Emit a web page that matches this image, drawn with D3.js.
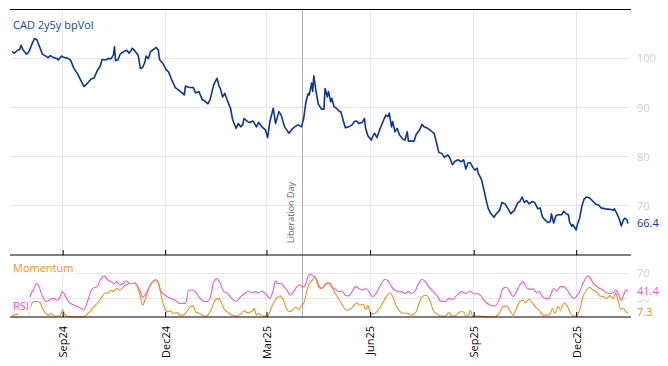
<!DOCTYPE html>
<html><head><meta charset="utf-8">
<script src="https://cdn.jsdelivr.net/npm/d3@7"></script>
<style>html,body{margin:0;padding:0;background:#fff}svg{display:block}text{font-family:"Open Sans","Noto Sans",sans-serif}</style>
</head><body><svg id="chart" width="668" height="366"></svg>
<script>
const title = "CAD 2y5y bpVol";
const volDates = ["2024-07-18","2024-07-20","2024-07-23","2024-07-25","2024-07-26","2024-07-28","2024-07-31","2024-08-02","2024-08-05","2024-08-07","2024-08-09","2024-08-11","2024-08-14","2024-08-17","2024-08-19","2024-08-21","2024-08-24","2024-08-27","2024-08-28","2024-08-31",
"2024-09-03","2024-09-06","2024-09-08","2024-09-11","2024-09-14","2024-09-17","2024-09-20","2024-09-23","2024-09-26","2024-09-29",
"2024-10-02","2024-10-04","2024-10-06","2024-10-09","2024-10-11","2024-10-14","2024-10-16","2024-10-17","2024-10-18","2024-10-20","2024-10-22","2024-10-25","2024-10-28","2024-10-30",
"2024-11-02","2024-11-04","2024-11-07","2024-11-09","2024-11-11","2024-11-13","2024-11-14","2024-11-16","2024-11-18","2024-11-21","2024-11-23","2024-11-25","2024-11-26","2024-11-29",
"2024-12-02","2024-12-04","2024-12-07","2024-12-10","2024-12-13","2024-12-16","2024-12-18","2024-12-19","2024-12-22","2024-12-26","2024-12-28","2024-12-31",
"2025-01-03","2025-01-05","2025-01-08","2025-01-10","2025-01-13","2025-01-16","2025-01-18","2025-01-19","2025-01-21","2025-01-23","2025-01-25","2025-01-28","2025-01-30",
"2025-02-02","2025-02-04","2025-02-06","2025-02-08","2025-02-09","2025-02-12","2025-02-14","2025-02-17","2025-02-20","2025-02-22","2025-02-25","2025-02-28",
"2025-03-02","2025-03-04","2025-03-07","2025-03-09","2025-03-12","2025-03-14","2025-03-17","2025-03-21","2025-03-24","2025-03-26","2025-03-29",
"2025-04-01","2025-04-03","2025-04-05","2025-04-07","2025-04-08","2025-04-10","2025-04-11","2025-04-12","2025-04-14","2025-04-16","2025-04-19","2025-04-21","2025-04-22","2025-04-24","2025-04-25","2025-04-27","2025-04-28","2025-04-30",
"2025-05-02","2025-05-05","2025-05-06","2025-05-08","2025-05-10","2025-05-13","2025-05-16","2025-05-18","2025-05-20","2025-05-22","2025-05-25","2025-05-27","2025-05-28","2025-05-30",
"2025-06-02","2025-06-04","2025-06-05","2025-06-07","2025-06-10","2025-06-13","2025-06-15","2025-06-17","2025-06-18","2025-06-20","2025-06-21","2025-06-23","2025-06-25","2025-06-27","2025-06-30",
"2025-07-02","2025-07-04","2025-07-05","2025-07-08","2025-07-10","2025-07-12","2025-07-15","2025-07-17","2025-07-19","2025-07-22","2025-07-24","2025-07-26","2025-07-28","2025-07-30",
"2025-08-01","2025-08-04","2025-08-06","2025-08-09","2025-08-11","2025-08-13","2025-08-15","2025-08-18","2025-08-21","2025-08-23","2025-08-25","2025-08-27","2025-08-29","2025-08-31",
"2025-09-02","2025-09-04","2025-09-05","2025-09-08","2025-09-10","2025-09-12","2025-09-14","2025-09-16","2025-09-19","2025-09-21","2025-09-24","2025-09-26","2025-09-29",
"2025-10-01","2025-10-04","2025-10-07","2025-10-10","2025-10-12","2025-10-14","2025-10-16","2025-10-18","2025-10-20","2025-10-23","2025-10-25","2025-10-28","2025-10-30",
"2025-11-01","2025-11-03","2025-11-06","2025-11-08","2025-11-09","2025-11-11","2025-11-13","2025-11-15","2025-11-18","2025-11-20","2025-11-22","2025-11-24","2025-11-25","2025-11-27","2025-11-28",
"2025-12-01","2025-12-02","2025-12-04","2025-12-06","2025-12-08","2025-12-10","2025-12-13","2025-12-16","2025-12-18","2025-12-21","2025-12-23","2025-12-27","2025-12-31",
"2026-01-03","2026-01-04","2026-01-07","2026-01-09","2026-01-10","2026-01-12","2026-01-13","2026-01-15","2026-01-16"];
const volValues = [101.5,101.1,101.7,101.9,102.7,101.7,100.9,
101.4,103.1,104.1,103.9,102.7,100.9,100.5,100.2,100.6,100.2,100.0,99.7,100.5,
100.2,100.0,99.7,98.0,97.0,95.6,94.3,95.0,95.8,96.1,
97.7,98.3,99.8,99.7,100.0,100.0,100.7,102.4,99.6,99.7,100.9,101.4,101.7,101.1,
102.1,101.6,100.7,98.0,98.2,99.3,100.5,100.0,101.4,101.9,102.3,101.7,99.8,99.0,
97.7,97.3,95.6,94.1,93.6,93.0,92.6,94.4,94.1,94.1,93.0,93.3,
91.6,91.4,90.8,91.7,94.6,96.0,94.3,93.9,92.2,92.9,91.6,89.9,87.5,
85.8,86.8,86.1,86.6,87.8,87.2,87.0,87.3,86.1,87.0,86.1,85.5,
83.9,87.2,89.9,86.8,89.2,88.5,86.1,84.8,85.7,86.1,86.5,
86.1,87.8,91.2,92.9,92.6,95.0,93.3,96.5,93.3,90.7,89.7,89.7,93.9,92.2,93.3,91.2,91.9,90.2,
89.9,89.2,89.2,87.5,85.9,86.1,86.5,87.2,87.3,86.8,87.0,87.8,85.8,84.3,
83.4,84.5,84.8,83.9,85.8,87.5,88.5,88.2,88.9,86.1,87.2,85.1,85.8,84.5,83.6,
83.4,85.1,83.2,83.2,83.2,84.6,85.5,86.6,86.1,85.8,85.5,85.1,84.7,82.8,
80.9,80.6,79.9,80.4,79.7,78.4,79.0,79.4,79.0,79.4,77.5,78.8,78.8,77.9,
77.3,77.7,76.7,75.3,73.3,71.2,69.4,68.5,67.7,68.4,69.1,70.7,70.4,
69.6,68.4,69.1,70.6,70.9,71.8,70.7,71.1,70.4,70.9,70.7,69.4,69.6,
67.8,67.2,66.6,66.8,68.4,66.5,68.0,68.2,68.2,68.9,68.4,68.2,66.8,65.8,66.2,
65.1,66.2,67.5,69.9,71.4,71.8,71.6,70.9,70.4,70.2,69.6,69.4,69.3,
69.1,69.4,68.0,66.8,65.9,67.2,67.5,67.2,66.4];

const rsiDates = ["2024-07-18","2024-07-21","2024-07-25","2024-07-29","2024-08-02","2024-08-03","2024-08-06","2024-08-09","2024-08-11","2024-08-14","2024-08-18","2024-08-21","2024-08-24","2024-08-27","2024-08-29",
"2024-09-01","2024-09-03","2024-09-06","2024-09-11","2024-09-15","2024-09-20","2024-09-23","2024-09-27",
"2024-10-02","2024-10-04","2024-10-08","2024-10-11","2024-10-14","2024-10-17","2024-10-19","2024-10-22","2024-10-25","2024-10-28","2024-10-30",
"2024-11-02","2024-11-04","2024-11-06","2024-11-09","2024-11-11","2024-11-14","2024-11-17","2024-11-20","2024-11-23","2024-11-25","2024-11-27",
"2024-12-01","2024-12-06","2024-12-10","2024-12-14","2024-12-19","2024-12-22","2024-12-26","2024-12-29",
"2025-01-01","2025-01-05","2025-01-08","2025-01-11","2025-01-13","2025-01-16","2025-01-19","2025-01-22","2025-01-25","2025-01-29",
"2025-02-02","2025-02-06","2025-02-10","2025-02-13","2025-02-16","2025-02-19","2025-02-22","2025-02-25","2025-02-28",
"2025-03-04","2025-03-07","2025-03-09","2025-03-11","2025-03-14","2025-03-17","2025-03-20","2025-03-22","2025-03-25","2025-03-28","2025-03-31",
"2025-04-02","2025-04-05","2025-04-07","2025-04-09","2025-04-12","2025-04-14","2025-04-17","2025-04-19","2025-04-22","2025-04-25","2025-04-28",
"2025-05-01","2025-05-04","2025-05-07","2025-05-10","2025-05-13","2025-05-16","2025-05-19","2025-05-22","2025-05-25","2025-05-28","2025-05-31",
"2025-06-03","2025-06-05","2025-06-08","2025-06-11","2025-06-14","2025-06-17","2025-06-20","2025-06-23","2025-06-26","2025-06-29",
"2025-07-02","2025-07-05","2025-07-08","2025-07-11","2025-07-14","2025-07-17","2025-07-20","2025-07-23","2025-07-27",
"2025-08-01","2025-08-02","2025-08-07","2025-08-10","2025-08-13","2025-08-17","2025-08-21","2025-08-25","2025-08-29",
"2025-09-01","2025-09-04","2025-09-07","2025-09-11","2025-09-16","2025-09-20","2025-09-24","2025-09-27","2025-09-30",
"2025-10-03","2025-10-06","2025-10-09","2025-10-12","2025-10-15","2025-10-17","2025-10-20","2025-10-24","2025-10-27","2025-10-29",
"2025-11-01","2025-11-04","2025-11-07","2025-11-09","2025-11-11","2025-11-14","2025-11-17","2025-11-20","2025-11-23","2025-11-26","2025-11-29",
"2025-12-01","2025-12-04","2025-12-07","2025-12-11","2025-12-13","2025-12-16","2025-12-19","2025-12-22","2025-12-25","2025-12-28","2025-12-31",
"2026-01-03","2026-01-05","2026-01-07","2026-01-10","2026-01-12","2026-01-14","2026-01-16"];
const rsiValues = [19,24,31,27,13,32,44,54,49,33,25,28.5,30,27,30,
41,35,25,19,16,12,25,45,
50,58.5,66,60,57,54,57,52,54,58.5,54,
54,55,50,41,32,38,49,57,60,54,42,
35,30,27,22,22,43.5,43.5,38,
30,25,25,38,57,62,54,41,39,30,
25,33,38,42,39,41,39,42,38,
30,43.5,58.5,54,54,48,41,35,41,49,52,
48,54,66,69,66,62,49,46,52,55,48,
45,41,42,35,34,41,49,46,43.5,46,41,
33,35,43.5,54,61,58.5,49,43.5,41,41,
38,41,38,42,54,61,57,49,41,
30,26,25,30,28.5,35,41,38,42,
37,38,35,25,19,18,30,46,48,
41,33,41,52,57,50,45,45,39,41,
33,30,30,39,46,42,49,49,43.5,35,30,
33,41,54,66,64,55,50,46,43.5,39,38,
39,43.5,39,27,35,43.5,41.4];

const momDates = ["2024-07-18","2024-07-24","2024-07-29","2024-08-02","2024-08-04","2024-08-06","2024-08-09","2024-08-12","2024-08-14","2024-08-17","2024-08-20","2024-08-22","2024-08-24","2024-08-27","2024-08-30",
"2024-09-01","2024-09-03","2024-09-08","2024-09-14","2024-09-20","2024-09-24","2024-09-29",
"2024-10-03","2024-10-06","2024-10-09","2024-10-11","2024-10-14","2024-10-16","2024-10-19","2024-10-22","2024-10-25","2024-10-28","2024-10-30",
"2024-11-02","2024-11-05","2024-11-07","2024-11-09","2024-11-11","2024-11-13","2024-11-16","2024-11-19","2024-11-22","2024-11-24","2024-11-26","2024-11-28","2024-11-30",
"2024-12-03","2024-12-06","2024-12-08","2024-12-12","2024-12-14","2024-12-17","2024-12-20","2024-12-23","2024-12-26","2024-12-28","2024-12-31",
"2025-01-03","2025-01-07","2025-01-09","2025-01-12","2025-01-14","2025-01-17","2025-01-19","2025-01-22","2025-01-25","2025-01-29",
"2025-02-03","2025-02-06","2025-02-09","2025-02-12","2025-02-15","2025-02-17","2025-02-18","2025-02-20","2025-02-22","2025-02-24","2025-02-26",
"2025-03-02","2025-03-04","2025-03-07","2025-03-10","2025-03-13","2025-03-16","2025-03-18","2025-03-21","2025-03-24","2025-03-27","2025-03-30",
"2025-04-01","2025-04-03","2025-04-06","2025-04-08","2025-04-11","2025-04-13","2025-04-15","2025-04-18","2025-04-21","2025-04-24","2025-04-27","2025-04-29",
"2025-05-02","2025-05-05","2025-05-08","2025-05-11","2025-05-14","2025-05-17","2025-05-20","2025-05-23","2025-05-26","2025-05-28","2025-05-30",
"2025-06-01","2025-06-04","2025-06-07","2025-06-10","2025-06-13","2025-06-16","2025-06-19","2025-06-21","2025-06-24","2025-06-27",
"2025-07-01","2025-07-04","2025-07-08","2025-07-12","2025-07-15","2025-07-18","2025-07-21","2025-07-24","2025-07-27",
"2025-08-01","2025-08-02","2025-08-07","2025-08-10","2025-08-13","2025-08-16","2025-08-20","2025-08-23","2025-08-25","2025-08-28","2025-08-29","2025-08-31",
"2025-09-04","2025-09-13","2025-09-20","2025-09-24","2025-09-27","2025-09-30",
"2025-10-03","2025-10-06","2025-10-09","2025-10-12","2025-10-15","2025-10-17","2025-10-20","2025-10-23","2025-10-26","2025-10-29",
"2025-11-02","2025-11-05","2025-11-08","2025-11-10","2025-11-12","2025-11-15","2025-11-17","2025-11-20","2025-11-23","2025-11-26","2025-11-29",
"2025-12-01","2025-12-04","2025-12-07","2025-12-10","2025-12-13","2025-12-16","2025-12-19","2025-12-22","2025-12-25","2025-12-28","2025-12-31",
"2026-01-03","2026-01-05","2026-01-07","2026-01-10","2026-01-12","2026-01-14","2026-01-16"];
const momValues = [2,6,15,5,19,25,25,23,14,6,3,6,2,1.5,3,
12,3,0.5,0.5,0.5,7,17,
25,33,39,38,43.5,41,46,43.5,49,52,54,
54,54,46,33,19,27,43.5,54,60,58.5,49,30,17,
8.5,10,6,7,3,3,8.5,16,18,8.5,6,
3,1.5,6,17,27,30,27,14,8.5,3,
1.5,5,10,7,8.5,11,14,3,6,3,1.5,
1.5,8.5,22,30,34,27,17,8.5,11,16,12,
19,22,43.5,54,60,65,54,46,49,55,54,45,
35,27,17,11,12,17,23,19,21,12,19,
7,5,8.5,16,25,35,39,33,19,10,
6,6,3,8.5,25,34,35,27,11,
3,1.5,1.5,7,1.5,3,8.5,8.5,1.5,5,11,1.5,
1.5,0.5,0.5,7,17,18,
11,3,14,25,27,23,28.5,23,16,11,
3,3,6,14,6,17,11,23,18,6,1.5,
1.5,11,33,43.5,48,43.5,41,34,33,30,34,
30,39,27,12,14,8.5,7.3];

const xTickDates = ["2024-09-01","2024-12-01","2025-03-01","2025-06-01","2025-09-01","2025-12-01"];
const yTicksTop = [70,80,90,100];
const yTicksBottom = [30,70];
const eventDate = "2025-04-02";
const eventLabel = "Liberation Day";

const C = {vol:"#0a34a3", title:"#1c3fa0", rsi:"#f653d8", mom:"#fb8c1c", grid:"#e6e6e6", axisTxt:"#cfcfcf"};

const parse = d3.timeParse("%Y-%m-%d");
const svg = d3.select("#chart");
const PL = 10, PR = 631, PT = 9.5, PM = 255, PB = 317;

const x = d3.scaleTime()
  .domain([parse(volDates[0]), parse(volDates[volDates.length-1])])
  .range([12, 628]);
const yTop = d3.scaleLinear().domain([60,110]).range([PM, PT]);
const yBot = d3.scaleLinear().domain([0,100]).range([PB, PM]);

const ticks = xTickDates.map(parse);

// grid
const grid = svg.append("g");
grid.selectAll("line.v").data(ticks).join("line")
  .attr("x1", d=>x(d)).attr("x2", d=>x(d)).attr("y1", PT).attr("y2", PB)
  .attr("stroke", C.grid).attr("stroke-width", 1).attr("shape-rendering","crispEdges");
grid.selectAll("line.ht").data(yTicksTop).join("line")
  .attr("x1", 11).attr("x2", 628).attr("y1", d=>yTop(d)).attr("y2", d=>yTop(d))
  .attr("stroke", C.grid).attr("shape-rendering","crispEdges");
grid.selectAll("line.hb").data(yTicksBottom).join("line")
  .attr("x1", 11).attr("x2", 628).attr("y1", d=>yBot(d)).attr("y2", d=>yBot(d))
  .attr("stroke", C.grid).attr("shape-rendering","crispEdges");

// event line
const ev = parse(eventDate);
svg.append("line").attr("x1", x(ev)).attr("x2", x(ev)).attr("y1", PT).attr("y2", PB)
  .attr("stroke", "#b4b4b4").attr("stroke-width", 1).attr("shape-rendering","crispEdges");
svg.append("text").attr("transform", `translate(${x(ev)-12},243) rotate(-90)`)
  .attr("dy","0.35em").attr("font-size", 9).attr("fill", "#666").text(eventLabel);

// right axis labels
svg.append("g").selectAll("text").data(yTicksTop).join("text")
  .attr("x", 637).attr("y", d=>yTop(d)).attr("dy","0.35em")
  .attr("font-size", 11).attr("fill", C.axisTxt).text(d=>d);
svg.append("g").selectAll("text").data(yTicksBottom).join("text")
  .attr("x", 637).attr("y", d=>yBot(d)).attr("dy","0.35em")
  .attr("font-size", 11).attr("fill", C.axisTxt).text(d=>d);

// lines
const volData = volDates.map((d,i)=>({d:parse(d), v:volValues[i]}));
const rsiData = rsiDates.map((d,i)=>({d:parse(d), v:rsiValues[i]}));
const momData = momDates.map((d,i)=>({d:parse(d), v:momValues[i]}));

svg.append("path").datum(volData)
  .attr("d", d3.line().x(p=>x(p.d)).y(p=>yTop(p.v)))
  .attr("fill","none").attr("stroke", C.vol).attr("stroke-width", 1.6).attr("stroke-linejoin","round");
svg.append("path").datum(rsiData)
  .attr("d", d3.line().curve(d3.curveMonotoneX).x(p=>x(p.d)).y(p=>yBot(p.v)))
  .attr("fill","none").attr("stroke", C.rsi).attr("stroke-width", 1.1);
svg.append("path").datum(momData)
  .attr("d", d3.line().curve(d3.curveMonotoneX).x(p=>x(p.d)).y(p=>yBot(p.v)))
  .attr("fill","none").attr("stroke", C.mom).attr("stroke-width", 1.1);

// frame lines
svg.append("line").attr("x1", PL).attr("x2", PR).attr("y1", PT).attr("y2", PT).attr("stroke","#000").attr("stroke-width",1.2);
svg.append("line").attr("x1", PL).attr("x2", PR).attr("y1", PM).attr("y2", PM).attr("stroke","#000").attr("stroke-width",1.2);
svg.append("line").attr("x1", PL).attr("x2", PR).attr("y1", PB).attr("y2", PB).attr("stroke","#000").attr("stroke-width",1.2);

// ticks (pointing up)
[PM, PB].forEach(yy=>{
  const g = svg.append("g").attr("transform", `translate(0,${yy})`)
    .call(d3.axisTop(x).tickValues(ticks).tickSize(5).tickSizeOuter(0).tickFormat(""));
  g.select(".domain").remove();
  g.selectAll("line").attr("stroke","#000");
});
// tick labels
const gl = svg.append("g").attr("transform", `translate(0,${PB})`)
  .call(d3.axisBottom(x).tickValues(ticks).tickSize(0).tickFormat(d3.timeFormat("%b%y")));
gl.select(".domain").remove();
gl.selectAll("text").attr("transform","rotate(-90)").attr("text-anchor","end")
  .attr("x", -9).attr("y", 0).attr("dy","0.35em")
  .attr("font-size", 11).attr("fill","#000").attr("font-family", '"Open Sans","Noto Sans",sans-serif');

// labels with translucent background
function label(txt, xx, yy, color) {
  const t = svg.append("text").attr("x", xx).attr("y", yy).attr("dy","0.35em")
    .attr("font-size", 11).attr("fill", color).text(txt);
  const b = t.node().getBBox();
  svg.insert("rect", () => t.node()).attr("x", b.x-2).attr("y", b.y-1)
    .attr("width", b.width+4).attr("height", b.height+2).attr("fill","#fff").attr("opacity",0.8);
  return t;
}
svg.append("text").attr("x", 13).attr("y", 25).attr("dy","0.35em")
  .attr("font-size", 11).attr("fill", C.title).text(title);
label("Momentum", 13, 268, C.mom);
label("RSI", 13, 306, C.rsi);

const lastVol = volData[volData.length-1], lastRsi = rsiData[rsiData.length-1], lastMom = momData[momData.length-1];
label(d3.format(".1f")(lastVol.v), 637, yTop(lastVol.v), C.vol);
label(d3.format(".1f")(lastRsi.v), 637, yBot(lastRsi.v), C.rsi);
label(d3.format(".1f")(lastMom.v), 637, yBot(lastMom.v), C.mom);
</script></body></html>
